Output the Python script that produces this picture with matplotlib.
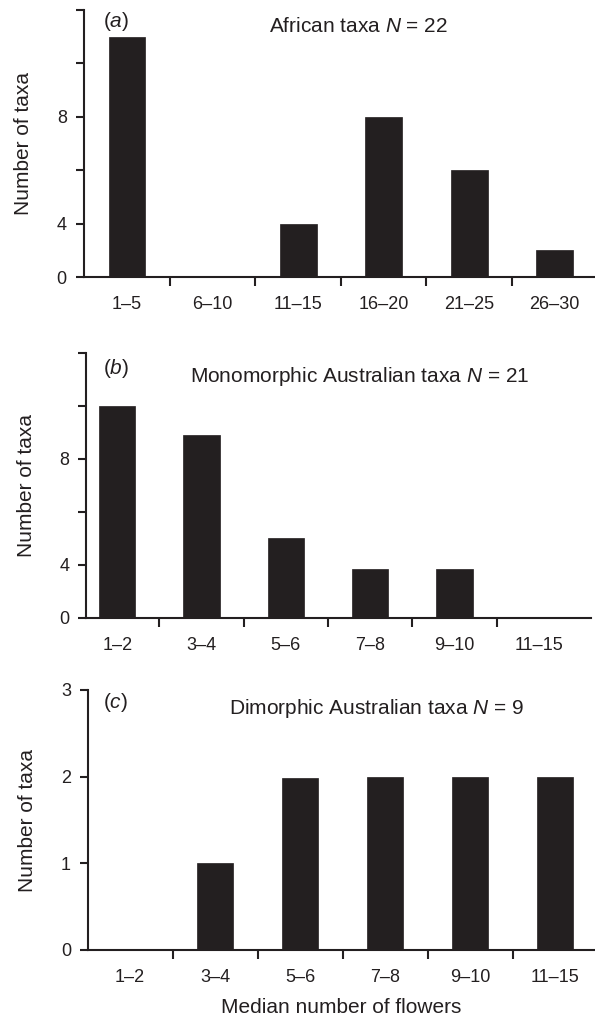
import matplotlib
matplotlib.use("Agg")
import matplotlib.pyplot as plt

# Data
african_labels = ["1–5", "6–10", "11–15", "16–20", "21–25", "26–30"]
african_counts = [9, 0, 2, 6, 4, 1]

mono_labels = ["1–2", "3–4", "5–6", "7–8", "9–10", "11–15"]
mono_counts = [8, 6.9, 3, 1.85, 1.85, 0]

dimorph_labels = ["1–2", "3–4", "5–6", "7–8", "9–10", "11–15"]
dimorph_counts = [0, 1, 1.98, 2, 2, 2]

# y tick labels as printed in panels a and b
ab_yticks = [0, 2, 4, 6, 8, 10]
ab_yticklabels = ["0", "4", "", "8", "", ""]
c_yticks = [0, 1, 2, 3]
c_yticklabels = ["0", "1", "2", "3"]

INK = "#231f20"
W, H = 595, 1017


def setup_axis(ax, labels, counts, xlim, ylim, yticks, yticklabels):
    x = list(range(len(labels)))
    ax.bar(x, counts, width=0.43, color=INK, edgecolor=INK, linewidth=0.5, zorder=2)
    ax.set_xlim(*xlim)
    ax.set_ylim(*ylim)

    for side in ["top", "right"]:
        ax.spines[side].set_visible(False)
    for side in ["left", "bottom"]:
        ax.spines[side].set_linewidth(1.5)
        ax.spines[side].set_color(INK)
        ax.spines[side].set_zorder(3)

    # labels at category centres, ticks between categories
    ax.set_xticks(x)
    ax.set_xticklabels(labels)
    ax.set_xticks([i + 0.5 for i in x[:-1]], minor=True)
    ax.tick_params(axis="x", which="major", length=0, pad=14, labelsize=13, labelcolor=INK)
    ax.tick_params(axis="x", which="minor", length=6.5, width=1.5, color=INK, direction="out")

    ax.set_yticks(yticks)
    ax.set_yticklabels(yticklabels)
    ax.tick_params(axis="y", length=6, width=1.5, color=INK, pad=6, labelsize=13, labelcolor=INK)

    ax.set_ylabel("Number of taxa", fontsize=15, color=INK, labelpad=17)


def rect(left, right, top, bottom):
    return [left / W, 1 - bottom / H, (right - left) / W, (bottom - top) / H]


def main():
    plt.rcParams["font.family"] = ["Liberation Sans", "DejaVu Sans"]
    plt.rcParams["mathtext.fontset"] = "custom"
    plt.rcParams["mathtext.rm"] = "Liberation Sans"
    plt.rcParams["mathtext.it"] = "Liberation Sans:italic"

    fig = plt.figure(figsize=(W / 100, H / 100), dpi=100)

    ax_a = fig.add_axes(rect(83.5, 594, 10, 277))
    setup_axis(ax_a, african_labels, african_counts, (-0.51, 5.46), (0, 10),
               ab_yticks, ab_yticklabels)

    ax_b = fig.add_axes(rect(86, 591, 353, 617.5))
    setup_axis(ax_b, mono_labels, mono_counts, (-0.37, 5.62), (0, 10),
               ab_yticks, ab_yticklabels)

    ax_c = fig.add_axes(rect(87.7, 595, 690, 950))
    setup_axis(ax_c, dimorph_labels, dimorph_counts, (-0.5, 5.47), (0, 3),
               c_yticks, c_yticklabels)
    ax_c.set_xlabel("Median number of flowers", fontsize=15, color=INK, labelpad=8)

    # panel letters and titles
    panel_text = [
        (103, 26.7, r"($\mathit{a}$)", 359, 31.7, r"African taxa $N$ = 22"),
        (103, 374.3, r"($\mathit{b}$)", 360, 381.7, r"Monomorphic Australian taxa $N$ = 21"),
        (103, 707.5, r"($\mathit{c}$)", 377, 714.3, r"Dimorphic Australian taxa $N$ = 9"),
    ]
    for lx, ly, letter, tx, ty, title in panel_text:
        fig.text(lx / W, 1 - ly / H, letter, fontsize=15, color=INK,
                 ha="left", va="baseline")
        fig.text(tx / W, 1 - ty / H, title, fontsize=15, color=INK,
                 ha="center", va="baseline")

    fig.savefig("out.png", dpi=100)


if __name__ == "__main__":
    main()
